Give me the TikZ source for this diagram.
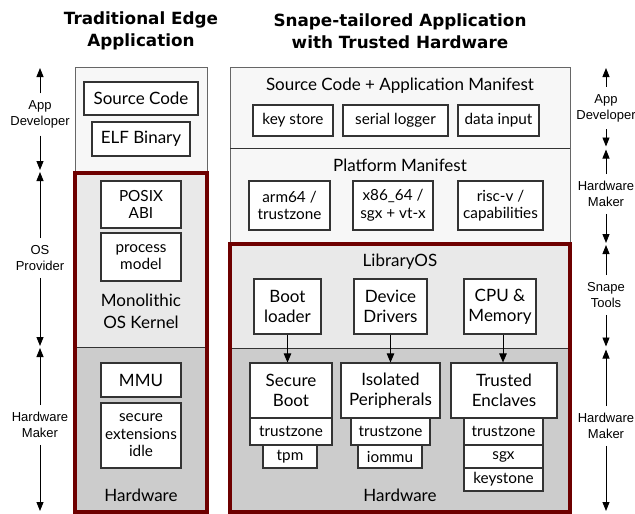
\documentclass[tikz,border=0pt]{standalone}
\usepackage{fontspec}
\setmainfont{Lato}
\newfontfamily\sidefont{Liberation Sans}
\newfontfamily\titlefont{DejaVu Sans}
\usetikzlibrary{arrows.meta}
\definecolor{redb}{HTML}{6E0000}
\definecolor{topfill}{HTML}{F7F7F7}
\definecolor{midfill}{HTML}{E9E9E9}
\definecolor{hwfill}{HTML}{CCCCCC}
\definecolor{edge}{HTML}{333333}
\begin{document}
\begin{tikzpicture}[x=1pt,y=-1pt,
  box/.style={draw=edge, line width=1.1pt, fill=white, inner sep=0pt, align=center, font=\fontsize{17}{20}\selectfont},
  sbox/.style={box, font=\fontsize{15.3}{17.5}\selectfont},
  big/.style={inner sep=0pt, align=center, font=\fontsize{17}{22}\selectfont},
  side/.style={inner sep=0pt, align=center, font=\sidefont\fontsize{13}{16}\selectfont},
  title/.style={inner sep=0pt, align=center, font=\titlefont\bfseries\fontsize{16.8}{22}\selectfont},
  sidearrow/.style={line width=0.9pt, -{Triangle[length=9pt,width=7pt]}, shorten <=7pt},
  flow/.style={line width=0.9pt, -{Triangle[length=9pt,width=7.5pt]}},
  band/.style={draw=edge, line width=0.9pt},
  redframe/.style={draw=redb, line width=4pt}
]
\useasboundingbox (0,0) rectangle (635,514);

% titles
\node[title] (t1) at (141,31) {Traditional Edge\\Application};
\node[title] (t2) at (400,31) {Snape-tailored Application\\with Trusted Hardware};

% ---------- left column backgrounds
\fill[topfill] (75,67) rectangle (207,173);
\draw[draw=black!60, line width=0.9pt] (75,173) -- (75,67) -- (207,67) -- (207,173);
\fill[midfill] (75,173) rectangle (207,347);
\fill[hwfill] (75,347) rectangle (207,512);
\draw[band] (75,347) -- (207,347);
\draw[redframe] (75,173) rectangle (207,512);

% ---------- right column backgrounds
\fill[topfill] (230,67) rectangle (570,244);
\draw[draw=black!60, line width=0.9pt] (230,244) -- (230,67) -- (570,67) -- (570,244);
\draw[band] (230,148) -- (570,148);
\fill[midfill] (230,244) rectangle (570,348);
\fill[hwfill] (230,348) rectangle (570,512);
\draw[band] (230,348) -- (570,348);
\draw[redframe] (230,244) rectangle (570,512);

% ---------- left column content
\node[box, minimum width=114pt, minimum height=33pt] (src) at (141,98.5) {Source Code};
\node[box, minimum width=98pt, minimum height=34pt] (elf) at (141,139) {ELF Binary};
\node[sbox, minimum width=80pt, minimum height=47pt] (posix) at (141,204.5) {POSIX\\ABI};
\node[sbox, minimum width=80pt, minimum height=48pt] (proc) at (141,257) {process\\model};
\node[big] (kern) at (141,311) {Monolithic\\OS Kernel};
\node[box, minimum width=80pt, minimum height=34pt] (mmu) at (141,380) {MMU};
\node[sbox, minimum width=80pt, minimum height=65pt] (secx) at (141,435.5) {secure\\extensions\\idle};
\node[big] (hwl) at (141,495) {Hardware};

% ---------- right column content
\node[big] (srcman) at (400,86) {Source Code + Application Manifest};
\node[sbox, minimum width=80pt, minimum height=31pt] (keystore) at (293,120.5) {key store};
\node[sbox, minimum width=105pt, minimum height=31pt] (serial) at (395.5,120.5) {serial logger};
\node[sbox, minimum width=81pt, minimum height=31pt] (datain) at (498.5,120.5) {data input};

\node[big] (platman) at (400,165) {Platform Manifest};
\node[sbox, minimum width=81pt, minimum height=49pt] (arm) at (289.5,205.5) {arm64 /\\trustzone};
\node[sbox, minimum width=80pt, minimum height=49pt] (x86) at (393,205.5) {x86\_64 /\\sgx + vt-x};
\node[sbox, minimum width=85pt, minimum height=49pt] (risc) at (500.5,205.5) {risc-v /\\capabilities};

\node[big] (libos) at (400,262) {LibraryOS};
\node[box, minimum width=67pt, minimum height=55pt] (boot) at (287.5,306.5) {Boot\\loader};
\node[box, minimum width=73pt, minimum height=55pt] (dev) at (390.5,306.5) {Device\\Drivers};
\node[box, minimum width=72pt, minimum height=55pt] (cpu) at (500,306.5) {CPU \&\\Memory};

\node[box, minimum width=82pt, minimum height=55pt] (sb) at (291,390.5) {Secure\\Boot};
\node[sbox, minimum width=82pt, minimum height=27pt] (sbtz) at (291,431.5) {trustzone};
\node[sbox, minimum width=54pt, minimum height=23pt] (tpm) at (290,456.5) {tpm};

\node[box, minimum width=99pt, minimum height=55pt] (ip) at (390.5,390.5) {Isolated\\Peripherals};
\node[sbox, minimum width=79pt, minimum height=27pt] (iptz) at (390.5,431.5) {trustzone};
\node[sbox, minimum width=64pt, minimum height=23pt] (iommu) at (390,456.5) {iommu};

\node[box, minimum width=106pt, minimum height=55pt] (te) at (504,390.5) {Trusted\\Enclaves};
\node[sbox, minimum width=79pt, minimum height=27pt] (tetz) at (503.5,431.5) {trustzone};
\node[sbox, minimum width=79pt, minimum height=23pt] (sgx) at (503.5,456.5) {sgx};
\node[sbox, minimum width=79pt, minimum height=23pt] (keyst) at (503.5,479.5) {keystone};
\node[big] (hwr) at (400,495) {Hardware};

\draw[flow] (boot.south) -- (boot.south |- sb.north);
\draw[flow] (dev.south) -- (dev.south |- ip.north);
\draw[flow] ([xshift=3pt]cpu.south) -- ([xshift=3pt]cpu.south |- te.north);

% ---------- side labels left
\node[side] (ad1) at (40,114.5) {App\\Developer};
\coordinate (ad1t) at (40,68); \coordinate (ad1b) at (40,170);
\draw[sidearrow] (ad1) -- (ad1t); \draw[sidearrow] (ad1) -- (ad1b);

\node[side] (osp) at (40,258) {OS\\Provider};
\coordinate (ospt) at (40,172); \coordinate (ospb) at (40,346);
\draw[sidearrow] (osp) -- (ospt); \draw[sidearrow] (osp) -- (ospb);

\node[side] (hm1) at (40,425) {Hardware\\Maker};
\coordinate (hm1t) at (40,348); \coordinate (hm1b) at (40,511);
\draw[sidearrow] (hm1) -- (hm1t); \draw[sidearrow] (hm1) -- (hm1b);

% ---------- side labels right
\node[side] (ad2) at (606,108) {App\\Developer};
\coordinate (ad2t) at (606,68); \coordinate (ad2b) at (606,146.5);
\draw[sidearrow] (ad2) -- (ad2t); \draw[sidearrow] (ad2) -- (ad2b);

\node[side] (hm2) at (606,194) {Hardware\\Maker};
\coordinate (hm2t) at (606,149.5); \coordinate (hm2b) at (606,243);
\draw[sidearrow] (hm2) -- (hm2t); \draw[sidearrow] (hm2) -- (hm2b);

\node[side] (st) at (606,295) {Snape\\Tools};
\coordinate (stt) at (606,245); \coordinate (stb) at (606,346.5);
\draw[sidearrow] (st) -- (stt); \draw[sidearrow] (st) -- (stb);

\node[side] (hm3) at (606,426) {Hardware\\Maker};
\coordinate (hm3t) at (606,349.5); \coordinate (hm3b) at (606,511);
\draw[sidearrow] (hm3) -- (hm3t); \draw[sidearrow] (hm3) -- (hm3b);
\end{tikzpicture}
\end{document}
